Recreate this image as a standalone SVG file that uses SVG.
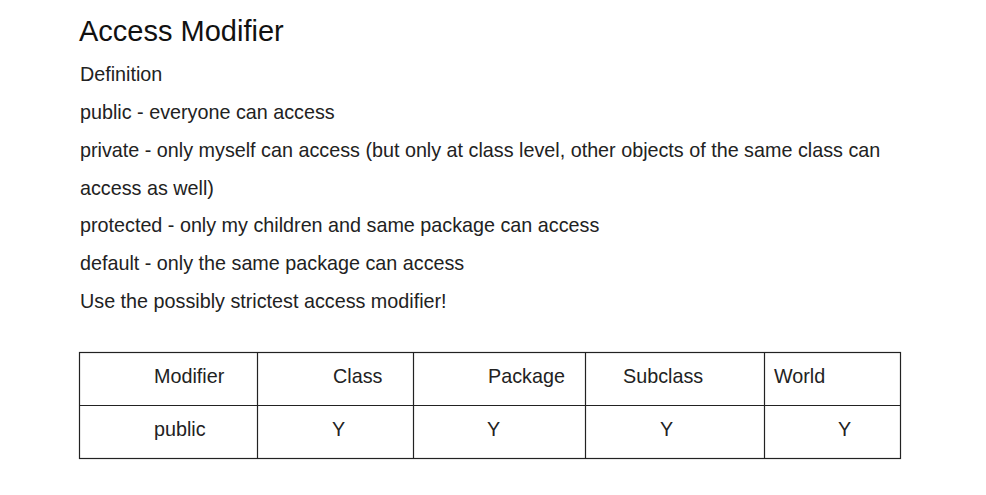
<svg xmlns="http://www.w3.org/2000/svg" width="986" height="495" viewBox="0 0 986 495">
<style>
.t{font-family:"Liberation Sans",Arial,sans-serif;font-size:19.75px;fill:#222}
.h{font-family:"Liberation Sans",Arial,sans-serif;font-size:29px;fill:#111}
.g{stroke:#222;stroke-width:1.2;fill:none}
</style>
<rect width="986" height="495" fill="#fff"/>
<g id="text">
<text class="h" x="79" y="41">Access Modifier</text>
<text class="t" x="80" y="81">Definition</text>
<text class="t" x="80" y="119">public - everyone can access</text>
<text class="t" x="80" y="157">private - only myself can access (but only at class level, other objects of the same class can</text>
<text class="t" x="80" y="195">access as well)</text>
<text class="t" x="80" y="232">protected - only my children and same package can access</text>
<text class="t" x="80" y="270">default - only the same package can access</text>
<text class="t" x="80" y="308">Use the possibly strictest access modifier!</text>
</g>
<g id="table">
<rect class="g" x="79.5" y="352.5" width="821" height="106"/>
<line class="g" x1="79.5" y1="405.5" x2="900.5" y2="405.5"/>
<line class="g" x1="257.5" y1="352.5" x2="257.5" y2="458.5"/>
<line class="g" x1="413.5" y1="352.5" x2="413.5" y2="458.5"/>
<line class="g" x1="585.5" y1="352.5" x2="585.5" y2="458.5"/>
<line class="g" x1="764.5" y1="352.5" x2="764.5" y2="458.5"/>
<text class="t" x="154" y="383">Modifier</text>
<text class="t" x="333" y="383">Class</text>
<text class="t" x="488" y="383">Package</text>
<text class="t" x="623" y="383">Subclass</text>
<text class="t" x="774" y="383">World</text>
<text class="t" x="154" y="436">public</text>
<text class="t" x="332" y="436">Y</text>
<text class="t" x="487" y="436">Y</text>
<text class="t" x="660" y="436">Y</text>
<text class="t" x="838" y="436">Y</text>
</g>
</svg>
